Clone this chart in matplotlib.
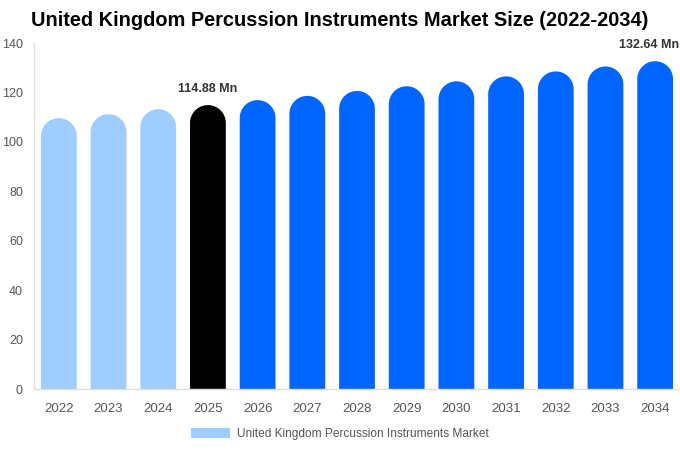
import numpy as np
import matplotlib
matplotlib.use('Agg')
import matplotlib.pyplot as plt
from matplotlib.patches import Polygon, Patch

plt.rcParams['font.family'] = ['Liberation Sans', 'DejaVu Sans']

years = ['2022', '2023', '2024', '2025', '2026', '2027', '2028',
         '2029', '2030', '2031', '2032', '2033', '2034']
values = [109.6, 111.2, 113.2, 114.88, 116.9, 118.6, 120.6,
          122.5, 124.5, 126.5, 128.5, 130.5, 132.64]
bar_colors = ['#a0cdff'] * 3 + ['#000000'] + ['#0066ff'] * 9
labelled = {3: '114.88 Mn', 12: '132.64 Mn'}

fig = plt.figure(figsize=(6.8, 4.5), dpi=100)
ax = fig.add_axes([34/680., 1-389/450., (680-34)/680., (389-43)/450.])

ymax = 140
nbar = len(years)
width = 0.72
ax.set_xlim(-0.5, nbar-0.5)
ax.set_ylim(0, ymax)

# pixel scale so the caps come out round
px_x = (680-34) / float(nbar)
px_y = (389-43) / float(ymax)
r_y = (width*px_x/2.) / px_y

th = np.linspace(np.pi, 0, 40)
for i, (v, c) in enumerate(zip(values, bar_colors)):
    xs = np.concatenate([[i-width/2], i+width/2*np.cos(th), [i+width/2]])
    ys = np.concatenate([[0], v-r_y+r_y*np.sin(th), [0]])
    ax.add_patch(Polygon(np.column_stack([xs, ys]), closed=True,
                         facecolor=c, edgecolor='none'))
    if i in labelled:
        # last label would run off the figure edge, nudge it in a bit
        xlab = i if i < nbar-1 else i - 6./px_x
        ax.text(xlab, v+4, labelled[i], ha='center', va='bottom', fontsize=9,
                fontweight='bold', color='#333333', clip_on=False)

ax.set_xticks(np.arange(nbar))
ax.set_xticklabels(years)
ax.set_yticks(np.arange(0, 141, 20))
ax.tick_params(axis='both', length=0, colors='#555555')
ax.tick_params(axis='x', pad=10, labelsize=9.5)
ax.tick_params(axis='y', pad=8, labelsize=9)
for sp in ['top', 'right']:
    ax.spines[sp].set_visible(False)
for sp in ['left', 'bottom']:
    ax.spines[sp].set_color('#dddddd')
    ax.spines[sp].set_linewidth(1)

fig.suptitle('United Kingdom Percussion Instruments Market Size (2022-2034)',
             fontsize=14.4, fontweight='bold', x=0.5, y=1-21/450., va='center')

fig.legend(handles=[Patch(facecolor='#a0cdff', edgecolor='none',
                          label='United Kingdom Percussion Instruments Market')],
           loc='center', bbox_to_anchor=(0.5, 1-434/450.), frameon=False,
           fontsize=8.6, handlelength=3.3, handleheight=1.0, handletextpad=0.6,
           labelcolor='#555555')

fig.savefig('out.png', dpi=100)
